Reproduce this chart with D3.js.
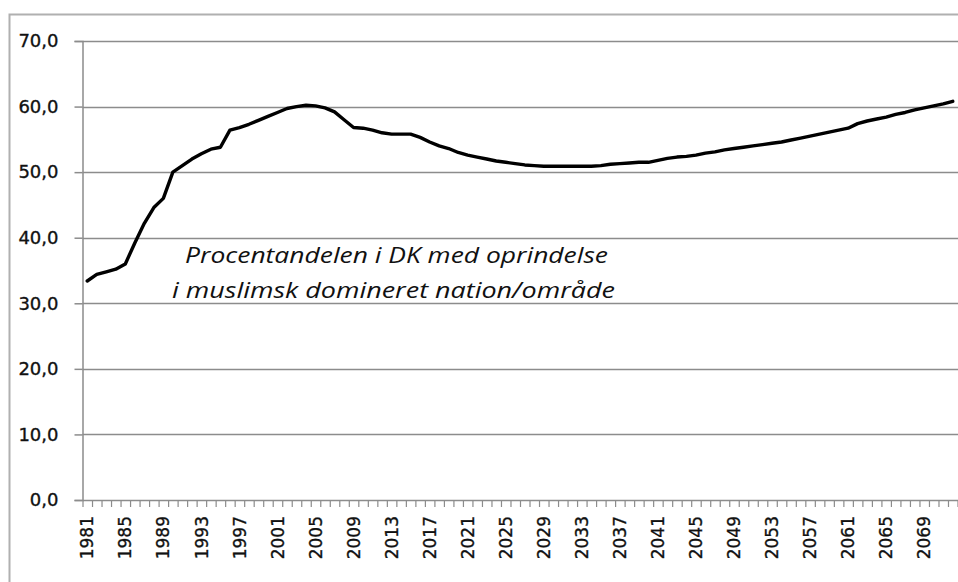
<!DOCTYPE html>
<meta charset="utf-8">
<style>
body { margin: 0; background: #fff; }
text { font-family: "DejaVu Sans", sans-serif; fill: #111; }
.tick-label { stroke: #111; stroke-width: 0.35px; }
.note { font-family: "Open Sans", sans-serif; font-style: italic; font-size: 22px; }
</style>
<svg width="958" height="582"></svg>
<script src="https://d3js.org/d3.v7.min.js"></script>
<script>

var years = d3.range(1981, 2073);

var values = [
  33.4, 34.4, 34.8, 35.2, 36.0, 39.2, 42.2, 44.6, 46.0, 50.0,
  51.0, 52.0, 52.8, 53.5, 53.8, 56.4, 56.8, 57.3, 57.9, 58.5,
  59.1, 59.7, 60.0, 60.2, 60.1, 59.8, 59.2, 58.0, 56.8, 56.7,
  56.4, 56.0, 55.8, 55.8, 55.8, 55.3, 54.6, 54.0, 53.6, 53.0,
  52.6, 52.3, 52.0, 51.7, 51.5, 51.3, 51.1, 51.0, 50.9, 50.9,
  50.9, 50.9, 50.9, 50.9, 51.0, 51.2, 51.3, 51.4, 51.5, 51.5,
  51.8, 52.1, 52.3, 52.4, 52.6, 52.9, 53.1, 53.4, 53.6, 53.8,
  54.0, 54.2, 54.4, 54.6, 54.9, 55.2, 55.5, 55.8, 56.1, 56.4,
  56.7, 57.4, 57.8, 58.1, 58.4, 58.8, 59.1, 59.5, 59.8, 60.1,
  60.4, 60.8
];

var yTicks = [0, 10, 20, 30, 40, 50, 60, 70];
var xLabels = years.filter(function(d) { return (d - 1981) % 4 === 0; });
var noteLines = ["Procentandelen i DK med oprindelse", "i muslimsk domineret nation/område"];

var svg = d3.select("svg");

var plotLeft = 82.5, plotRight = 957.5, plotTop = 41, plotBottom = 500;

var x = d3.scaleBand().domain(years).range([plotLeft, plotRight]).padding(0);
var xEdge = d3.scaleLinear().domain([0, years.length]).range([plotLeft, plotRight]);
var y = d3.scaleLinear().domain([0, 70]).range([plotBottom, plotTop]);

var fmt = function(d) { return d3.format(".1f")(d).replace(".", ","); };

// outer frame
svg.append("rect")
    .attr("x", 9.5).attr("y", 14.5)
    .attr("width", 1000).attr("height", 700)
    .attr("fill", "none")
    .attr("stroke", "#b0b0b0")
    .attr("stroke-width", 2);

// gridlines
svg.append("g")
  .selectAll("line")
  .data(yTicks.filter(function(d) { return d > 0; }))
  .join("line")
    .attr("x1", plotLeft).attr("x2", 958)
    .attr("y1", function(d) { return Math.round(y(d)) + 0.5; })
    .attr("y2", function(d) { return Math.round(y(d)) + 0.5; })
    .attr("stroke", "#8c8c8c")
    .attr("stroke-width", 1.5);

// y axis
var gy = svg.append("g")
    .attr("transform", "translate(" + plotLeft + ",0)")
    .call(d3.axisLeft(y).tickValues(yTicks).tickSize(8).tickPadding(16).tickFormat(fmt));
gy.select(".domain").attr("stroke", "#8c8c8c").attr("stroke-width", 1.5);
gy.selectAll(".tick line").attr("stroke", "#8c8c8c").attr("stroke-width", 1.5);
gy.selectAll("text")
    .attr("class", "tick-label")
    .style("font-size", "18px")
    .style("font-family", "DejaVu Sans")
    .attr("fill", "#111");

// x axis: tick marks at category boundaries
var gx = svg.append("g")
    .attr("transform", "translate(0," + plotBottom + ")")
    .call(d3.axisBottom(xEdge).tickValues(d3.range(years.length + 1)).tickSize(7).tickSizeOuter(0).tickFormat(""));
gx.select(".domain").attr("stroke", "#8c8c8c").attr("stroke-width", 1.5);
gx.selectAll(".tick line").attr("stroke", "#8c8c8c").attr("stroke-width", 1.2);

// x labels, rotated
svg.append("g")
  .selectAll("text")
  .data(xLabels)
  .join("text")
    .attr("class", "tick-label")
    .attr("transform", function(d) {
      return "translate(" + (x(d) + x.bandwidth() / 2) + "," + 516 + ") rotate(-90)";
    })
    .attr("text-anchor", "end")
    .attr("dy", "0.36em")
    .style("font-size", "17px")
    .text(function(d) { return d; });

// note
svg.append("g")
  .selectAll("text")
  .data(noteLines)
  .join("text")
    .attr("class", "note")
    .attr("x", function(d, i) { return i === 0 ? 396.5 : 393.5; })
    .attr("y", function(d, i) { return 263 + i * 35; })
    .attr("text-anchor", "middle")
    .attr("textLength", function(d, i) { return i === 0 ? 423 : 443; })
    .attr("lengthAdjust", "spacingAndGlyphs")
    .text(function(d) { return d; });

// the series
var line = d3.line()
    .x(function(d, i) { return x(years[i]) + x.bandwidth() / 2; })
    .y(function(d) { return y(d); });

svg.append("path")
    .datum(values)
    .attr("fill", "none")
    .attr("stroke", "#000")
    .attr("stroke-width", 3.4)
    .attr("stroke-linejoin", "round")
    .attr("stroke-linecap", "round")
    .attr("d", line);

</script>
